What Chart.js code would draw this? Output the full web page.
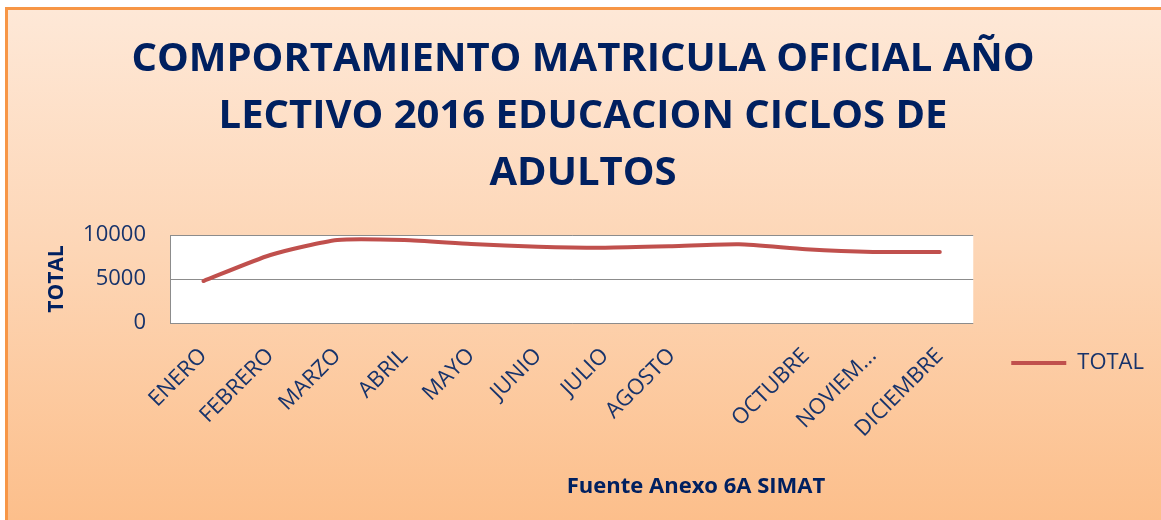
<!DOCTYPE html>
<html>
<head>
<meta charset="utf-8">
<title>Comportamiento matricula oficial 2016</title>
<script src="https://cdn.jsdelivr.net/npm/chart.js@4.4.1/dist/chart.umd.min.js"></script>
<style>
  html, body { margin: 0; padding: 0; background: #fff; }
  #wrap { position: relative; width: 1161px; height: 520px; overflow: hidden; }
  #panel {
    position: absolute; left: 5px; top: 7px; width: 1180px; height: 530px;
    border-top: 3px solid #F79646; border-left: 3px solid #F79646;
    background: linear-gradient(#FEE8D7, #FDD6B6 45%, #FCBD88);
  }
  #grafico { position: absolute; left: 0; top: 0; }
</style>
</head>
<body>
<div id="wrap">
  <div id="panel"></div>
  <canvas id="grafico" width="1161" height="520"></canvas>
</div>
<script>
// Matricula oficial 2016 - educacion ciclos de adultos
const meses = ['ENERO', 'FEBRERO', 'MARZO', 'ABRIL', 'MAYO', 'JUNIO', 'JULIO', 'AGOSTO',
               'SEPTIEMBRE', 'OCTUBRE', 'NOVIEMBRE', 'DICIEMBRE'];
// etiquetas tal como salen en el eje (septiembre no se muestra)
const etiquetasMes = ['ENERO', 'FEBRERO', 'MARZO', 'ABRIL', 'MAYO', 'JUNIO', 'JULIO', 'AGOSTO',
                      '', 'OCTUBRE', 'NOVIEM...', 'DICIEMBRE'];
const totalMatricula = [4770, 7730, 9430, 9430, 8980, 8670, 8560, 8720, 8940, 8380, 8070, 8070];
const ticksTotal = [0, 5000, 10000];
const tituloGrafico = ['COMPORTAMIENTO MATRICULA OFICIAL AÑO', 'LECTIVO 2016 EDUCACION CICLOS DE', 'ADULTOS'];
const textoFuente = 'Fuente Anexo 6A SIMAT';

const azul = '#002060';
const azulTexto = '#17336B';
const rojo = '#C0504D';

// fondo blanco del area de trazado
const fondoArea = {
    id: 'fondoArea',
    beforeDraw(chart) {
        const a = chart.chartArea;
        const ctx = chart.ctx;
        ctx.save();
        ctx.fillStyle = '#ffffff';
        ctx.fillRect(a.left, a.top, a.right - a.left, a.bottom - a.top);
        ctx.restore();
    }
};

// la leyenda empieza debajo del titulo, como en Excel
const leyendaAbajo = {
    id: 'leyendaAbajo',
    afterLayout(chart) {
        if (chart.legend) chart.legend.top = chart.chartArea.top;
    }
};

// texto de la fuente debajo del eje
const fuentePlugin = {
    id: 'fuentePlugin',
    afterDraw(chart) {
        const ctx = chart.ctx;
        ctx.save();
        ctx.font = 'bold 22px "Open Sans"';
        ctx.fillStyle = azul;
        ctx.textAlign = 'center';
        ctx.textBaseline = 'middle';
        ctx.fillText(textoFuente, 696, 487);
        ctx.restore();
    }
};

var ctx = document.getElementById('grafico').getContext('2d');
new Chart(ctx, {
    type: 'line',
    data: {
        labels: meses,
        datasets: [{
            label: 'TOTAL',
            data: totalMatricula,
            borderColor: rojo,
            backgroundColor: rojo,
            borderWidth: 4,
            borderCapStyle: 'round',
            pointRadius: 0,
            pointStyle: 'line',
            tension: 0.2,
            fill: false
        }]
    },
    options: {
        responsive: false,
        animation: false,
        layout: { padding: { left: 12, right: 7, top: 0, bottom: 29 } },
        plugins: {
            title: {
                display: true,
                text: tituloGrafico,
                color: azul,
                font: { family: 'Open Sans', size: 40, weight: 'bold', lineHeight: 1.425 },
                padding: { top: 31, bottom: 33 }
            },
            legend: {
                position: 'right',
                labels: {
                    usePointStyle: true,
                    pointStyleWidth: 55,
                    boxHeight: 4,
                    padding: 38,
                    color: azulTexto,
                    font: { family: 'Open Sans', size: 22 }
                }
            },
            tooltip: { enabled: false }
        },
        scales: {
            x: {
                offset: true,
                grid: { display: false, drawTicks: false },
                border: { display: false },
                afterFit: function(scale) { scale.height = 168; },
                ticks: {
                    autoSkip: false,
                    minRotation: 45,
                    maxRotation: 45,
                    padding: 20,
                    color: azulTexto,
                    font: { family: 'Open Sans', size: 22 },
                    callback: function(value, index) { return etiquetasMes[index]; }
                }
            },
            y: {
                min: 0,
                max: 10000,
                afterBuildTicks: function(scale) {
                    scale.ticks = ticksTotal.map(v => ({ value: v }));
                },
                afterFit: function(scale) { scale.width = 158; },
                grid: { color: '#8C8C8C', lineWidth: 1, drawTicks: false },
                border: { display: true, color: '#8C8C8C', width: 1 },
                ticks: {
                    padding: 24,
                    color: azulTexto,
                    font: { family: 'Open Sans', size: 22 },
                    callback: function(value) { return String(value); }
                },
                title: {
                    display: true,
                    text: 'TOTAL',
                    color: azul,
                    font: { family: 'Open Sans', size: 21, weight: 'bold', lineHeight: 1.2 },
                    padding: { top: 32, bottom: 0 }
                }
            }
        }
    },
    plugins: [fondoArea, leyendaAbajo, fuentePlugin]
});
</script>
</body>
</html>
